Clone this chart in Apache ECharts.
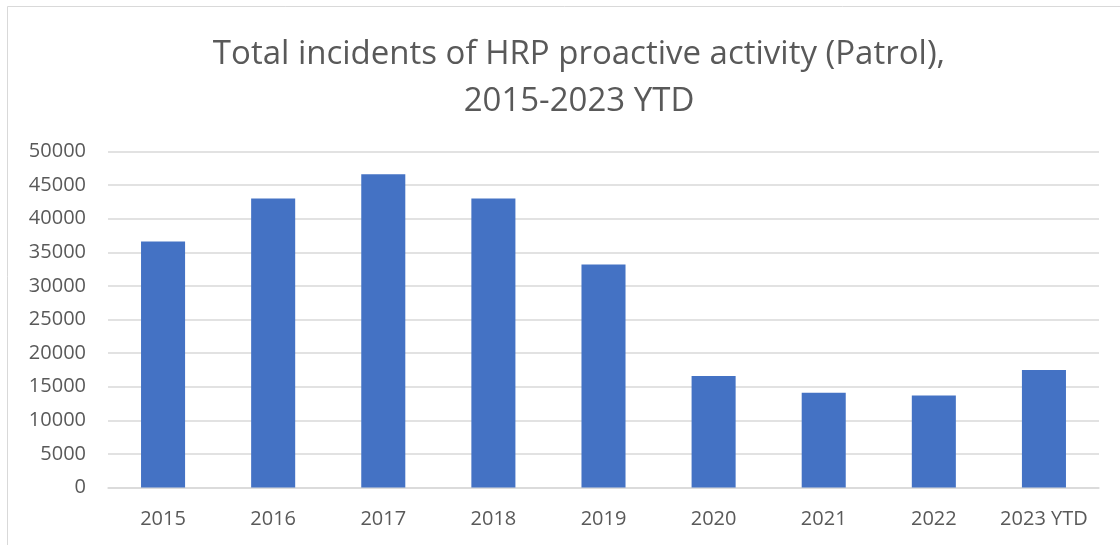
<!DOCTYPE html>
<html>
<head>
<meta charset="utf-8">
<script src="https://cdn.jsdelivr.net/npm/echarts@6/dist/echarts.min.js"></script>
<style>html,body{margin:0;padding:0;background:#fff;}#c{width:1120px;height:545px;}</style>
</head>
<body>
<div id="c"></div>
<script>
const categories = ['2015','2016','2017','2018','2019','2020','2021','2022','2023 YTD'];
const values = [36600, 43000, 46600, 43000, 33200, 16600, 14100, 13700, 17500];
const yTicks = { min: 0, max: 50000, interval: 5000 };
const titleLines = ['Total incidents of HRP proactive activity (Patrol),', '2015-2023 YTD'];

const chart = echarts.init(document.getElementById('c'), null, {renderer: 'canvas'});
const textColor = '#595959';
const font = 'Open Sans';
chart.setOption({
  animation: false,
  backgroundColor: '#fff',
  title: {
    text: titleLines.join('\n'),
    left: 574, top: 26,
    textAlign: 'center',
    textStyle: { fontFamily: font, fontSize: 33, fontWeight: 'normal', color: textColor, lineHeight: 47 }
  },
  graphic: [{
    type: 'rect', silent: true,
    shape: { x: 7.5, y: 6.5, width: 1300, height: 700 },
    style: { fill: 'none', stroke: '#d9d9d9', lineWidth: 1 }
  }],
  grid: { left: 108, right: 21, top: 151.5, bottom: 57.5, containLabel: false },
  xAxis: {
    type: 'category', data: categories,
    axisLine: { show: true, lineStyle: { color: '#d9d9d9', width: 1.5 } },
    axisTick: { show: false },
    axisLabel: { color: textColor, fontFamily: font, fontSize: 20, margin: 22, interval: 0 }
  },
  yAxis: {
    type: 'value', min: yTicks.min, max: yTicks.max, interval: yTicks.interval,
    axisLine: { show: false }, axisTick: { show: false },
    splitLine: { lineStyle: { color: '#d9d9d9', width: 1.5 } },
    axisLabel: { color: textColor, fontFamily: font, fontSize: 20, margin: 22, formatter: v => String(v) }
  },
  series: [{
    type: 'bar', data: values, barWidth: '40%',
    itemStyle: { color: '#4472c4' }
  }]
});
</script>
</body>
</html>
